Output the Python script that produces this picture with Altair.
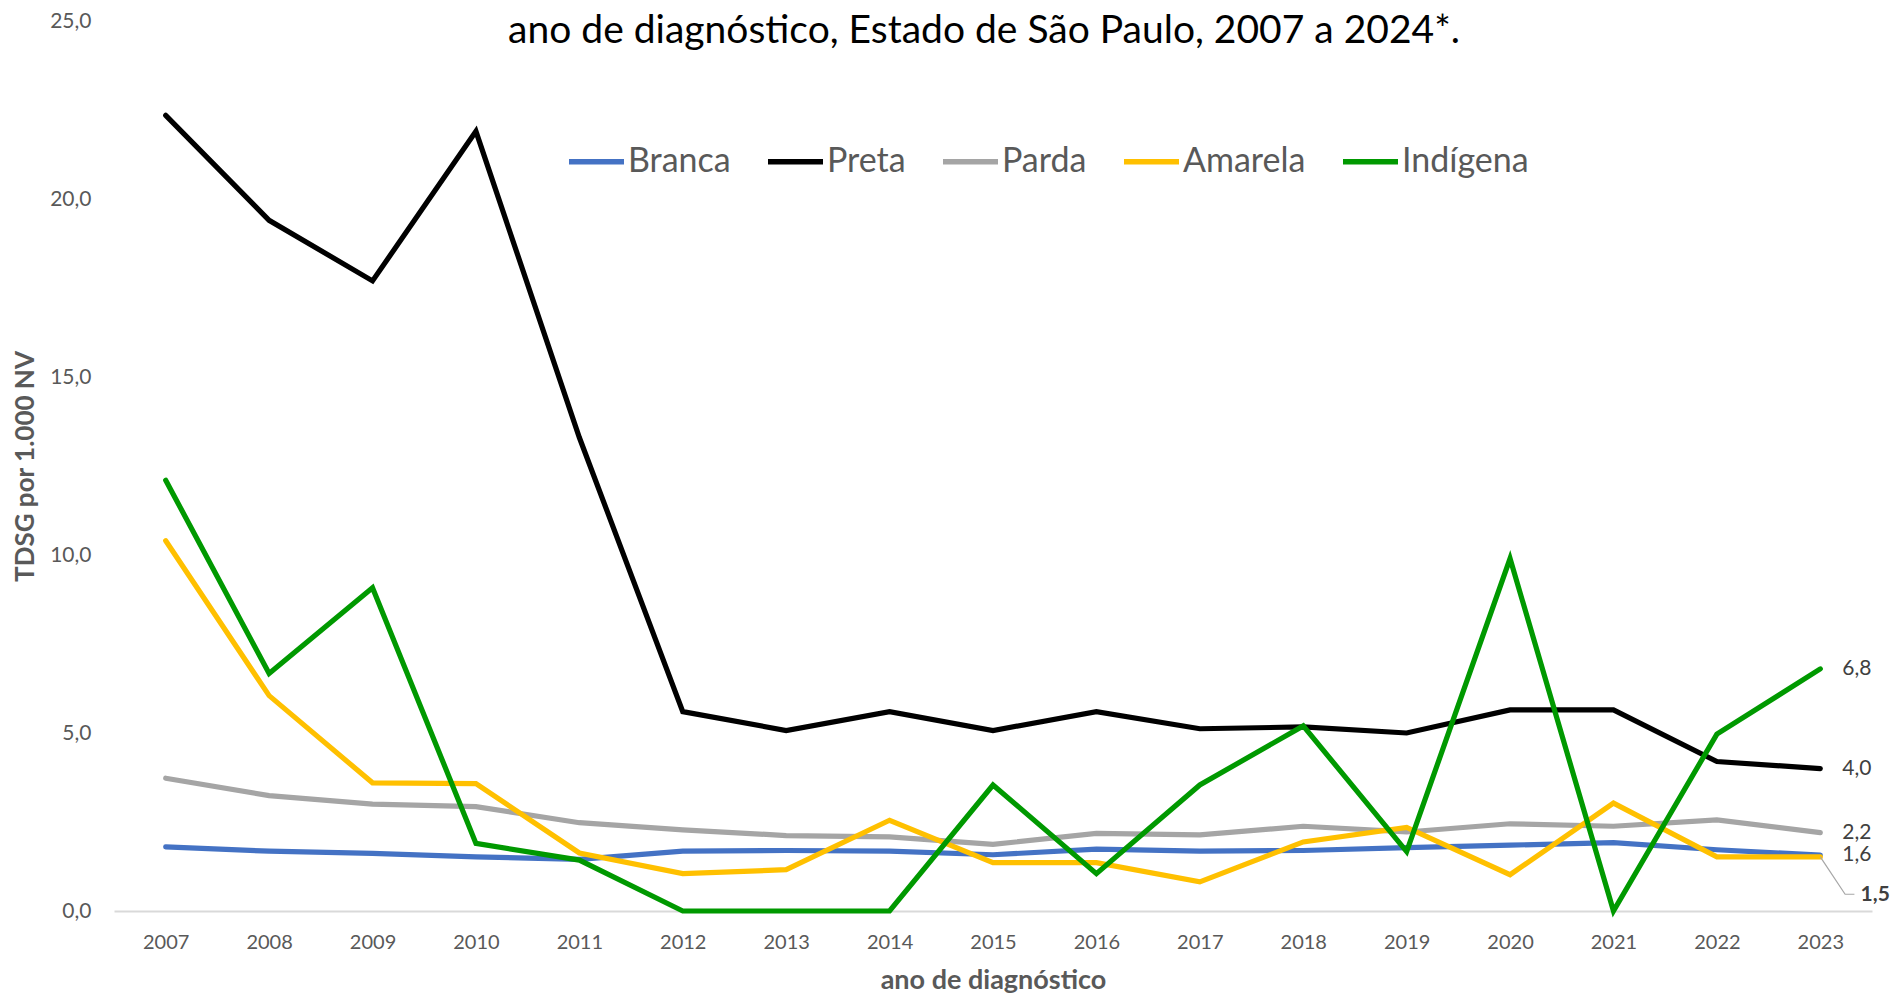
import altair as alt
import pandas as pd

years = list(range(2007, 2024))
series_names = ["Branca", "Preta", "Parda", "Amarela", "Indígena"]
series_colors = ["#4472C4", "#000000", "#A5A5A5", "#FFC000", "#009900"]

branca = [1.80, 1.68, 1.62, 1.52, 1.45, 1.68, 1.70, 1.68, 1.58, 1.74, 1.68, 1.70, 1.78, 1.85, 1.92, 1.72, 1.57]
preta = [22.35, 19.4, 17.7, 21.9, 13.3, 5.6, 5.07, 5.6, 5.07, 5.6, 5.12, 5.17, 5.0, 5.65, 5.65, 4.2, 4.0]
parda = [3.73, 3.24, 3.0, 2.93, 2.48, 2.28, 2.12, 2.08, 1.87, 2.18, 2.14, 2.38, 2.22, 2.45, 2.38, 2.56, 2.2]
amarela = [10.4, 6.05, 3.6, 3.58, 1.63, 1.05, 1.16, 2.55, 1.36, 1.36, 0.82, 1.94, 2.35, 1.02, 3.03, 1.52, 1.52]
indigena = [12.1, 6.67, 9.08, 1.9, 1.43, 0.0, 0.0, 0.0, 3.54, 1.05, 3.54, 5.2, 1.67, 9.9, 0.0, 4.97, 6.8]

y_ticks = [0, 5, 10, 15, 20, 25]
title_text = "ano de diagnóstico, Estado de São Paulo, 2007 a 2024*."
x_title = "ano de diagnóstico"
y_title = "TDSG por 1.000 NV"

all_values = [branca, preta, parda, amarela, indigena]
rows = []
for name, vals in zip(series_names, all_values):
    for yr, v in zip(years, vals):
        rows.append({"ano": yr, "serie": name, "valor": v})
df = pd.DataFrame(rows)

def fmt(v):
    return f"{v:.1f}".replace(".", ",")

end_rows = [{"ano": years[-1], "valor": vals[-1], "label": fmt(vals[-1])}
            for name, vals in zip(series_names, all_values) if name != "Amarela"]
end_df = pd.DataFrame(end_rows)

am_end = amarela[-1]
leader_df = pd.DataFrame({
    "ano": [years[-1], years[-1] + 0.24, years[-1] + 0.33],
    "valor": [am_end, 0.47, 0.47],
    "k": [0, 1, 2],
})
am_label_df = pd.DataFrame({"ano": [years[-1] + 0.39], "valor": [0.45], "label": [fmt(am_end)]})

FONT = "Lato"
AX = "#595959"

x_scale = alt.Scale(domain=[years[0] - 0.5, years[-1] + 0.5], nice=False, zero=False)
y_scale = alt.Scale(domain=[0, 25], nice=False)
color_scale = alt.Scale(domain=series_names, range=series_colors)

x_axis = alt.Axis(values=years, format="d", title=x_title, grid=False, ticks=False,
                  domainColor="#D9D9D9", domainWidth=2, labelFontSize=20, labelColor=AX,
                  labelPadding=21, titleFontSize=27, titleColor=AX, titleFontWeight="bold",
                  titlePadding=15, labelFont=FONT, titleFont=FONT)
y_axis = alt.Axis(values=y_ticks, labelExpr="replace(format(datum.value, '.1f'), '.', ',')",
                  title=y_title, grid=False, ticks=False, domain=False,
                  labelFontSize=21, labelColor=AX, labelPadding=23,
                  titleFontSize=26, titleColor=AX, titleFontWeight="bold", titlePadding=11,
                  labelFont=FONT, titleFont=FONT)

X = lambda: alt.X("ano:Q", scale=x_scale, axis=x_axis)
Y = lambda: alt.Y("valor:Q", scale=y_scale, axis=y_axis)

legend = alt.Legend(title=None, orient="none", direction="horizontal",
                    legendX=452, legendY=110, symbolType="stroke",
                    symbolSize=3025, symbolStrokeWidth=5.5,
                    labelFontSize=34, labelColor=AX, labelFont=FONT,
                    labelOffset=1, columnPadding=26, padding=0)

layers = []
for name in series_names:
    layers.append(
        alt.Chart(df).transform_filter(alt.datum.serie == name)
        .mark_line(strokeWidth=5.2, strokeCap="round", strokeJoin="miter")
        .encode(x=X(), y=Y(), color=alt.Color("serie:N", scale=color_scale, legend=legend))
    )

labels = alt.Chart(end_df).mark_text(align="left", baseline="middle", dx=22, fontSize=21,
                                     font=FONT, color="#404040").encode(
    x=X(), y=Y(), text="label:N")

leader = alt.Chart(leader_df).mark_line(color="#A6A6A6", strokeWidth=1.2).encode(
    x=X(), y=Y(), order="k:Q")

am_label = alt.Chart(am_label_df).mark_text(align="left", baseline="middle", fontSize=21,
                                            fontWeight="bold", font=FONT, color="#404040").encode(
    x=X(), y=Y(), text="label:N")

title = alt.Chart(pd.DataFrame({"t": [title_text]})).mark_text(
    align="center", baseline="alphabetic", fontSize=39, font=FONT, color="#000000").encode(
    x=alt.value(870), y=alt.value(22), text="t:N")

chart = alt.layer(*layers, leader, labels, am_label, title).properties(
    width=1758, height=890,
    autosize=alt.AutoSizeParams(type="none"),
    padding={"left": 106, "top": 13, "right": 19, "bottom": 84},
).configure(background="white").configure_view(stroke=None, strokeWidth=0)

chart.save("out.html", embed_options={"renderer": "svg", "actions": False})
